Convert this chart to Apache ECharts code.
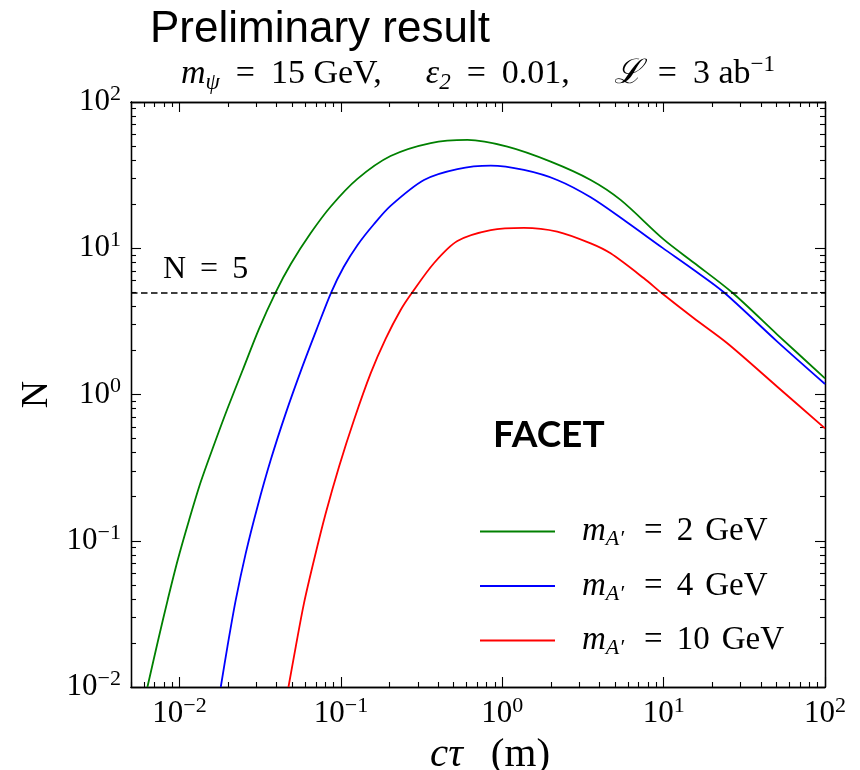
<!DOCTYPE html>
<html><head><meta charset="utf-8">
<script src="https://cdn.jsdelivr.net/npm/echarts@6/dist/echarts.min.js"></script>
<style>html,body{margin:0;padding:0;background:#fff}#c{width:860px;height:770px}</style>
</head><body><div id="c"></div>
<script>
// ---- data ----
const ctau_mA2 = [0.00632, 0.00732, 0.00845, 0.00974, 0.01146, 0.01352, 0.01637, 0.01982, 0.02455, 0.03102, 0.0394, 0.0489, 0.0650, 0.0865, 0.1265, 0.203, 0.360, 0.608, 1.075, 1.995, 3.53, 5.41, 10.0, 15.4, 26.6, 50.6, 100];
const N_mA2    = [0.0100, 0.0203, 0.0396, 0.0738, 0.1387, 0.252, 0.455, 0.802, 1.459, 2.80, 5.0, 7.80, 12.7, 19.3, 29.8, 42.7, 52.4, 55.0, 49.5, 39.1, 29.3, 21.4, 11.5, 7.96, 4.98, 2.57, 1.29];

const ctau_mA4 = [0.0180, 0.0198, 0.0223, 0.0257, 0.0304, 0.0367, 0.0455, 0.0577, 0.0708, 0.0871, 0.1040, 0.1265, 0.160, 0.203, 0.327, 0.527, 0.848, 1.362, 2.19, 3.53, 5.81, 9.8, 15.4, 23.6, 50.6, 100];
const N_mA4    = [0.0100, 0.0189, 0.0394, 0.0820, 0.171, 0.356, 0.743, 1.55, 2.80, 5.0, 7.44, 10.5, 14.6, 19.5, 29.3, 34.8, 36.7, 34.3, 29.3, 22.3, 15.3, 10.1, 7.10, 5.0, 2.30, 1.18];

const ctau_mA10 = [0.0473, 0.0525, 0.0590, 0.0681, 0.0805, 0.0973, 0.1205, 0.153, 0.1895, 0.234, 0.277, 0.378, 0.527, 0.848, 1.362, 2.19, 3.53, 4.69, 7.55, 9.8, 15.4, 24.8, 50.6, 100];
const N_mA10    = [0.0100, 0.0189, 0.0373, 0.0738, 0.154, 0.321, 0.670, 1.40, 2.41, 3.77, 5.0, 7.93, 11.2, 13.3, 13.8, 13.0, 10.8, 9.23, 6.23, 4.9, 3.32, 2.24, 1.13, 0.587];

const seriesNames = ['mA2', 'mA4', 'mA10'];
const seriesMasses = ['2', '4', '10'];
const N_THRESHOLD = 5;

const xMajorTicks = [0.01, 0.1, 1, 10, 100];
const yMajorTicks = [0.01, 0.1, 1, 10, 100];
const X_MIN = 0.005, X_MAX = 100, Y_MIN = 0.01, Y_MAX = 100;

function minorTicksBetween(lo, hi) {
  const out = [];
  for (let e = -3; e <= 2; e++) {
    for (let m = 2; m <= 9; m++) {
      const v = +(m * Math.pow(10, e)).toPrecision(6);
      if (v >= lo && v <= hi) out.push(v);
    }
  }
  return out;
}
const xMinorTicks = minorTicksBetween(X_MIN, X_MAX);
const yMinorTicks = minorTicksBetween(Y_MIN, Y_MAX);

const zip = (a, b) => a.map((v, i) => [v, b[i]]);

const SERIF = '"Liberation Serif", "DejaVu Serif", serif';
const SANS = '"Liberation Sans", Arial, sans-serif';

function expLabel(v) {
  const e = Math.round(Math.log10(v));
  const s = e < 0 ? '\u2212' + (-e) : String(e);
  return '{b|10}{s|' + s + '}';
}
const tickRich = {
  b: { fontFamily: SERIF, fontSize: 31, color: '#000', lineHeight: 34 },
  s: { fontFamily: SERIF, fontSize: 22, color: '#000', padding: [0, 0, 16, 0] }
};

function xAxisDef(position, ticks, len, showLabel) {
  return {
    type: 'log', min: X_MIN, max: X_MAX, position: position, logBase: 10,
    axisLine: { show: true, onZero: false, lineStyle: { color: '#000', width: 1.3 } },
    axisTick: { show: true, inside: true, length: len, customValues: ticks, lineStyle: { color: '#000', width: 1.1 } },
    axisLabel: showLabel ? { show: true, customValues: ticks, margin: 8, formatter: expLabel, rich: tickRich } : { show: false },
    splitLine: { show: false }, minorTick: { show: false }, minorSplitLine: { show: false }
  };
}
function yAxisDef(position, ticks, len, showLabel) {
  return {
    type: 'log', min: Y_MIN, max: Y_MAX, position: position, logBase: 10,
    axisLine: { show: true, onZero: false, lineStyle: { color: '#000', width: 1.3 } },
    axisTick: { show: true, inside: true, length: len, customValues: ticks, lineStyle: { color: '#000', width: 1.1 } },
    axisLabel: showLabel ? { show: true, customValues: ticks, margin: 10, formatter: expLabel, rich: tickRich } : { show: false },
    splitLine: { show: false }, minorTick: { show: false }, minorSplitLine: { show: false }
  };
}

const xMain = xAxisDef('bottom', xMajorTicks, 10, true);
xMain.name = '{i|c\u03C4}{r|(m)}';
xMain.nameLocation = 'middle';
xMain.nameGap = 28;
xMain.nameTextStyle = { rich: {
  i: { fontFamily: SERIF, fontStyle: 'italic', fontSize: 41, color: '#000', padding: [0, 0, 0, 24] },
  r: { fontFamily: SERIF, fontSize: 41, color: '#000', padding: [0, 0, 0, 28] } } };

const yMain = yAxisDef('left', yMajorTicks, 10, true);
yMain.name = 'N';
yMain.nameLocation = 'middle';
yMain.nameGap = 75;
yMain.nameRotate = 90;
yMain.nameTextStyle = { fontFamily: SERIF, fontSize: 38, color: '#000' };

const colors = ['#008000', '#0000ff', '#ff0000'];
const datasets = [zip(ctau_mA2, N_mA2), zip(ctau_mA4, N_mA4), zip(ctau_mA10, N_mA10)];

const series = seriesNames.map((nm, i) => ({
  name: nm, type: 'line', xAxisIndex: 0, yAxisIndex: 0,
  data: datasets[i], showSymbol: false, symbol: 'none', smooth: 0.3,
  lineStyle: { color: colors[i], width: 1.8 }, itemStyle: { color: colors[i] },
  animation: false, silent: true, z: 3
}));
series[0].markLine = {
  silent: true, symbol: ['none', 'none'], animation: false,
  label: { show: false },
  lineStyle: { type: [6.5, 3.5], color: '#000', width: 1.6 },
  data: [{ yAxis: N_THRESHOLD }]
};

const massByName = {};
seriesNames.forEach((n, i) => massByName[n] = seriesMasses[i]);

const chart = echarts.init(document.getElementById('c'), null, { renderer: 'canvas' });
chart.setOption({
  backgroundColor: '#fff',
  animation: false,
  title: {
    text: 'Preliminary result', left: 145, top: 3,
    textStyle: { fontFamily: SANS, fontSize: 44, fontWeight: 'normal', color: '#000' }
  },
  grid: { left: 131, right: 35, top: 102, bottom: 83, containLabel: false, outerBoundsMode: 'none' },
  xAxis: [
    xMain,
    xAxisDef('bottom', xMinorTicks, 5, false),
    xAxisDef('top', xMajorTicks, 10, false),
    xAxisDef('top', xMinorTicks, 5, false)
  ],
  yAxis: [
    yMain,
    yAxisDef('left', yMinorTicks, 5, false),
    yAxisDef('right', yMajorTicks, 10, false),
    yAxisDef('right', yMinorTicks, 5, false)
  ],
  legend: {
    orient: 'vertical', left: 480, top: 515, padding: 0, itemWidth: 75, itemHeight: 2, itemGap: 19,
    icon: 'rect',
    data: seriesNames, selectedMode: false,
    formatter: nm => '{m|m}{sub|A\u2032}{eq|=}{t|' + massByName[nm] + '}{g|GeV}',
    textStyle: { color: '#000', fontFamily: SERIF, fontSize: 33, rich: {
      m: { fontFamily: SERIF, fontStyle: 'italic', fontSize: 33, color: '#000', padding: [0, 0, 0, 22] },
      sub: { fontFamily: SERIF, fontStyle: 'italic', fontSize: 22, color: '#000', padding: [16, 0, 0, 0] },
      eq: { fontFamily: SERIF, fontSize: 33, color: '#000', padding: [0, 14, 0, 20] },
      t: { fontFamily: SERIF, fontSize: 33, color: '#000' },
      g: { fontFamily: SERIF, fontSize: 33, color: '#000', padding: [0, 0, 0, 12] }
    } }
  },
  graphic: [
    { type: 'text', left: 163, top: 254, silent: true,
      style: { text: '{t|N}{eq|=}{t|5}', rich: {
        t: { fontFamily: SERIF, fontSize: 32, fill: '#000' },
        eq: { fontFamily: SERIF, fontSize: 32, fill: '#000', padding: [0, 14, 0, 14] } } } },
    { type: 'text', left: 493, top: 417, silent: true,
      style: { text: 'FACET', fontFamily: 'Lato, "Open Sans", sans-serif', fontWeight: 'bold', fontSize: 37, fill: '#000' } },
    { type: 'text', x: 478, y: 74, silent: true,
      style: {
        text: '{i|m}{sub|\u03C8}{eq|=}{t|15 GeV,}{ig|\u03B5}{sub|2}{eq|=}{t|0.01,}{ig|\u2112}{eq|=}{t|3 ab}{sup|\u22121}',
        align: 'center', verticalAlign: 'middle',
        rich: {
          i: { fontFamily: SERIF, fontStyle: 'italic', fontSize: 34, fill: '#000' },
          ig: { fontFamily: SERIF, fontStyle: 'italic', fontSize: 34, fill: '#000', padding: [0, 0, 0, 44] },
          t: { fontFamily: SERIF, fontSize: 34, fill: '#000' },
          eq: { fontFamily: SERIF, fontSize: 34, fill: '#000', padding: [0, 16, 0, 16] },
          sub: { fontFamily: SERIF, fontStyle: 'italic', fontSize: 23, fill: '#000', padding: [18, 0, 0, 0] },
          sup: { fontFamily: SERIF, fontSize: 23, fill: '#000', padding: [0, 0, 18, 0] }
        }
      } }
  ],
  series: series
});
</script></body></html>
